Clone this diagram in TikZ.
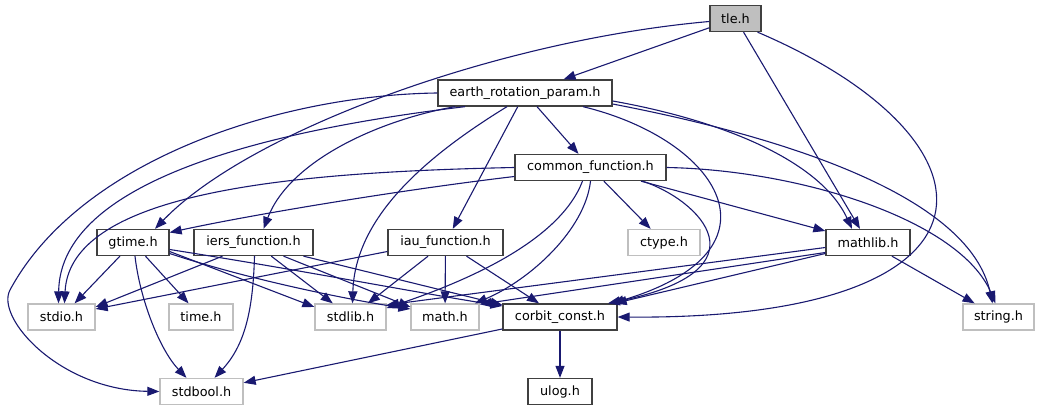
\documentclass[tikz,border=0pt]{standalone}
\usepackage{fontspec}
\setmainfont{DejaVu Sans}
\usepackage{tikz}
\usetikzlibrary{arrows.meta}

\definecolor{edgeblue}{HTML}{191970}
\definecolor{boxgrey}{HTML}{BFBFBF}
\definecolor{boxline}{HTML}{404040}

\begin{document}
\begin{tikzpicture}[x=1pt, y=-1pt,
    every node/.style={font=\fontsize{12.8}{15}\selectfont, inner sep=0pt, minimum height=26pt},
    hdr/.style={draw=boxline, fill=white, line width=1.3pt},
    syshdr/.style={draw=boxgrey, fill=white, line width=1.3pt},
    dep/.style={draw=edgeblue, line width=1.1pt, -{Triangle[length=12pt, width=9pt]}, edgeblue}]
    \useasboundingbox (0,0) rectangle (1040,411);

    % File itself
    \node[hdr, fill=boxgrey, minimum width=51pt] (tle) at (735.5,18.5) {tle.h};

    % Project headers
    \node[hdr, minimum width=174pt] (earth) at (525,93) {earth\_rotation\_param.h};
    \node[hdr, minimum width=151pt] (common) at (590.5,167.5) {common\_function.h};
    \node[hdr, minimum width=72pt] (gtime) at (133,242.5) {gtime.h};
    \node[hdr, minimum width=119pt] (iers) at (253.5,242.5) {iers\_function.h};
    \node[hdr, minimum width=115pt] (iau) at (445.5,242.5) {iau\_function.h};
    \node[hdr, minimum width=84pt] (mathlib) at (868,242.5) {mathlib.h};
    \node[hdr, minimum width=114pt] (corbit) at (560,317) {corbit\_const.h};
    \node[hdr, minimum width=64pt] (ulog) at (560,391.5) {ulog.h};

    % System headers
    \node[syshdr, minimum width=72pt] (ctype) at (664,242.5) {ctype.h};
    \node[syshdr, minimum width=67pt] (stdio) at (61.5,317) {stdio.h};
    \node[syshdr, minimum width=64pt] (time) at (201,317) {time.h};
    \node[syshdr, minimum width=71pt] (stdlib) at (350.5,317) {stdlib.h};
    \node[syshdr, minimum width=68pt] (math) at (445,317) {math.h};
    \node[syshdr, minimum width=71pt] (string) at (998.5,317) {string.h};
    \node[syshdr, minimum width=83pt] (stdbool) at (201.5,391.5) {stdbool.h};

    \coordinate (farleft) at (10,290);

    % Arrows from tle.h
    \draw[dep] (tle) -- (earth);
    \draw[dep] ([yshift=-3pt]tle.west) .. controls (500,40) and (250,130) .. ([xshift=22pt]gtime.north);
    \draw[dep] (tle) -- (mathlib);
    \draw[dep] ([xshift=22pt]tle.south) .. controls (1010,140) and (1020,320) .. (corbit.east);

    % Arrows from earth_rotation_param.h
    \draw[dep] (earth) -- (common);
    \draw[dep] ([xshift=-70pt]earth.south) .. controls (380,120) and (290,160) .. ([xshift=10pt]iers.north);
    \draw[dep] (earth) -- (iau);
    \draw[dep] ([xshift=-18pt]earth.south) .. controls (420,160) and (355,220) .. ([xshift=2pt]stdlib.north);
    \draw[dep] ([xshift=-60pt]earth.south) .. controls (270,130) and (60,180) .. ([xshift=-3pt]stdio.north);
    \draw[dep] (earth.west) .. controls (280,95) and (80,160) .. (farleft)
        .. controls (-5,318) and (60,390) .. (stdbool.west);
    \draw[dep] ([xshift=58pt]earth.south) .. controls (720,140) and (790,250) .. ([xshift=52pt]corbit.north);
    \draw[dep] ([yshift=-8pt]earth.east) .. controls (720,120) and (820,160) .. ([xshift=-16pt]mathlib.north);
    \draw[dep] ([yshift=-11pt]earth.east) .. controls (800,140) and (970,200) .. ([xshift=-6pt]string.north);

    % Arrows from common_function.h
    \draw[dep] (common.west) .. controls (300,172) and (70,190) .. ([xshift=3pt]stdio.north);
    \draw[dep] ([yshift=-9pt]common.west) .. controls (400,190) and (250,215) .. ([yshift=10pt]gtime.east);
    \draw[dep] (common) -- (ctype);
    \draw[dep] (common) -- (mathlib);
    \draw[dep] (common.east) .. controls (800,170) and (960,220) .. ([xshift=-3pt]string.north);
    \draw[dep] ([xshift=52pt]common.south) .. controls (700,200) and (770,270) .. ([xshift=48pt]corbit.north);
    \draw[dep] (common.south) .. controls (585,230) and (530,280) .. ([xshift=30pt]math.north);
    \draw[dep] ([xshift=-8pt]common.south) .. controls (560,240) and (470,280) .. ([yshift=9pt]stdlib.east);

    % Arrows from mathlib.h
    \draw[dep] ([yshift=-5pt]mathlib.west) -- ([yshift=12pt]stdlib.east);
    \draw[dep] ([yshift=-10pt]mathlib.west) -- ([yshift=-1pt]math.north east);
    \draw[dep] ([yshift=-11pt]mathlib.west) -- ([xshift=-3pt]corbit.north east);
    \draw[dep] (mathlib) -- (string);

    % Arrows from gtime.h
    \draw[dep] (gtime) -- (stdio);
    \draw[dep] (gtime) -- (time);
    \draw[dep] ([xshift=2pt]gtime.south) .. controls (140,300) and (160,350) .. ([xshift=-15pt]stdbool.north);
    \draw[dep] ([yshift=-9pt]gtime.east) -- ([yshift=10pt]stdlib.west);
    \draw[dep] ([yshift=-11pt]gtime.east) .. controls (250,280) and (350,300) .. ([yshift=8pt]math.west);
    \draw[dep] ([yshift=-7pt]gtime.east) .. controls (300,270) and (430,295) .. ([yshift=11pt]corbit.west);

    % Arrows from iers_function.h
    \draw[dep] ([xshift=-31pt]iers.south) -- ([yshift=10pt]stdio.east);
    \draw[dep] ([xshift=1pt]iers.south) .. controls (253,310) and (245,345) .. ([xshift=13pt]stdbool.north);
    \draw[dep] (iers) -- (stdlib);
    \draw[dep] ([xshift=30pt]iers.south) -- ([yshift=10pt]math.west);
    \draw[dep] ([xshift=50pt]iers.south) -- ([yshift=12pt]corbit.west);

    % Arrows from iau_function.h
    \draw[dep] ([yshift=-9pt]iau.west) -- ([yshift=8pt]stdio.east);
    \draw[dep] (iau) -- (stdlib);
    \draw[dep] (iau) -- (math);
    \draw[dep] (iau) -- (corbit);

    % Arrows from corbit_const.h
    \draw[dep] (corbit) -- (stdbool);
    \draw[dep] (corbit) -- (ulog);
\end{tikzpicture}
\end{document}
